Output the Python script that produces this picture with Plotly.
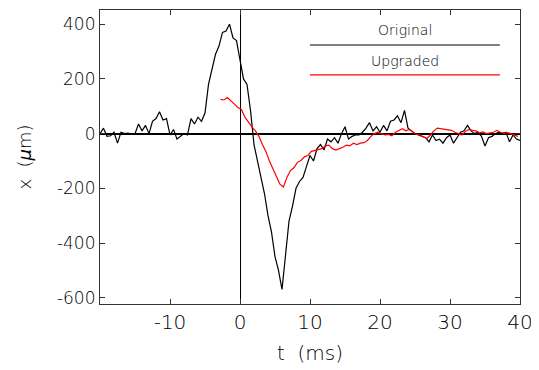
import plotly.graph_objects as go

# --- data ---
orig_t = [i * 0.5 - 20 for i in range(121)]
orig_x = [0, 20, -10, -8, 5, -35, 5, 0, 2, -2, 0, 35, 10, 30, 0, 45, 55, 80, 50, 55,
          -5, 15, -20, -10, 0, -5, 55, 35, 60, 45, 75, 180, 230, 290, 320, 370, 375, 400, 350, 340,
          270, 200, 180, 85, -40, -100, -160, -220, -300, -360, -450, -500, -570, -430, -320, -265, -200, -175, -160, -120,
          -80, -100, -55, -40, -60, -20, -30, -15, -35, 0, 25, -20, -10, -5, -5, 5, 20, 40, 10, 25,
          5, 30, 10, 45, 50, 65, 40, 85, 20, 10, 0, -5, -10, -15, -30, -5, -25, -20, -35, -15,
          -5, -35, -15, 5, 10, 30, 10, 0, 5, -10, -45, -15, -10, 0, 5, 0, 5, -30, -5, -20, -25]

upg_t = [i * 0.5 - 2.8 for i in range(86)]
upg_x = [125, 123, 132, 118, 108, 95, 88, 60, 40, 25, 10, -10, -40, -65, -100, -130, -155, -185, -195, -160,
         -135, -125, -105, -98, -85, -80, -65, -62, -60, -55, -45, -42, -55, -60, -55, -50, -42, -45, -35, -40,
         -35, -33, -25, -10, 0, 5, 0, -5, -3, -8, 5, 12, 18, 10, 15, 5, -2, -5, -12, -18,
         -5, 10, 20, 18, 15, 14, 12, 5, 0, -5, 8, 15, 12, 10, 3, 6, 0, 2, 5, 12,
         5, 2, 4, 0, -5, -10]

x_tick_vals = [-10, 0, 10, 20, 30, 40]
x_tick_text = ["-10", "0", "10", "20", "30", "40"]
y_tick_vals = [-600, -400, -200, 0, 200, 400]
y_tick_text = ["-600", "-400", "-200", "0", "200", "400"]

series_names = ["Original", "Upgraded"]
series_colors = ["black", "red"]

FONT = "DejaVu Sans"
W = 200

fig = go.Figure()
fig.add_trace(go.Scatter(x=orig_t, y=orig_x, mode="lines", name=series_names[0],
                         line=dict(color=series_colors[0], width=1.2), showlegend=False))
fig.add_trace(go.Scatter(x=upg_t, y=upg_x, mode="lines", name=series_names[1],
                         line=dict(color=series_colors[1], width=1.2), showlegend=False))

# custom legend (text above a line), in paper coordinates
leg_y_text = [0.932, 0.827]
leg_y_line = [0.881, 0.779]
for name, col, yt, yl in zip(series_names, series_colors, leg_y_text, leg_y_line):
    fig.add_annotation(x=0.726, y=yt, xref="paper", yref="paper", text=name, showarrow=False,
                       font=dict(family=FONT, size=14, color="black", weight=W),
                       xanchor="center", yanchor="middle")
    fig.add_shape(type="line", xref="paper", yref="paper", x0=0.5, x1=0.952, y0=yl, y1=yl,
                  line=dict(color=col, width=1.2))

axis_common = dict(showline=True, linecolor="#333", linewidth=1.2, mirror="ticks",
                   ticks="inside", ticklen=5, tickcolor="#333", showgrid=False,
                   zeroline=True, zerolinecolor="black", automargin=False)

fig.update_xaxes(range=[-20, 40], tickvals=x_tick_vals, ticktext=x_tick_text,
                 tickfont=dict(family=FONT, size=20, color="black", weight=W),
                 title=dict(text="t  (ms)", font=dict(family=FONT, size=20, color="black", weight=W), standoff=12),
                 zerolinewidth=1.2, **axis_common)
fig.update_yaxes(range=[-623, 452], tickvals=y_tick_vals, ticktext=y_tick_text,
                 tickfont=dict(family=FONT, size=17, color="black", weight=W),
                 title=dict(text="x  (<i>μ</i>m)", font=dict(family=FONT, size=18, color="black", weight=W), standoff=20),
                 zerolinewidth=1.8, **axis_common)

# page body has an 8px default margin, so the plot-area margins are offset by it
fig.update_layout(width=539, height=370, margin=dict(l=92, r=27, t=2, b=74),
                  plot_bgcolor="white", paper_bgcolor="white")

fig.write_html("out.html")
